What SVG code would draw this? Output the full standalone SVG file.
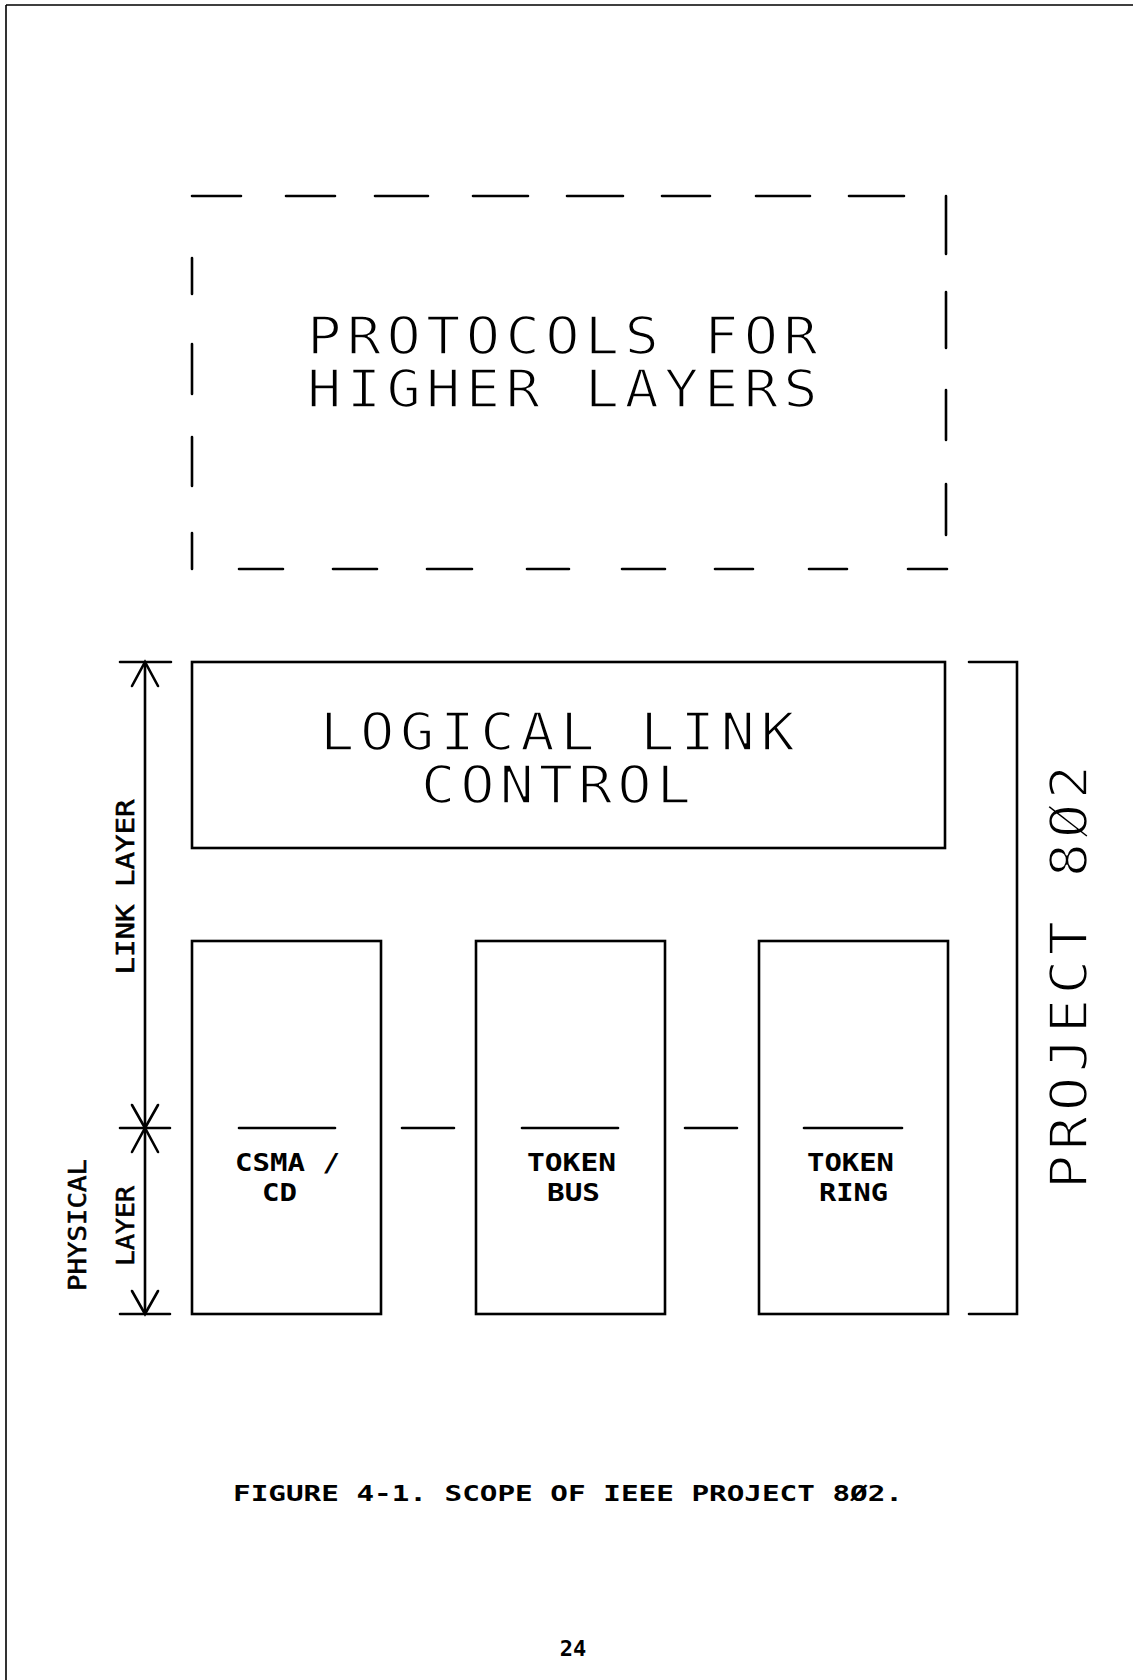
<svg xmlns="http://www.w3.org/2000/svg" width="1133" height="1680" viewBox="0 0 1133 1680">
<style>
.ln{stroke:#000;stroke-width:2.6;fill:none;stroke-linecap:round}
.box{stroke:#000;stroke-width:2.6;fill:none}
.big{font-family:"DejaVu Sans Mono","Liberation Mono",monospace;font-size:51px;fill:#000;stroke:#fff;stroke-width:1.7px}
.sm{font-family:"DejaVu Sans Mono","Liberation Mono",monospace;font-size:25px;fill:#000;stroke:#000;stroke-width:0.6px}
.lbl{font-family:"DejaVu Sans Mono","Liberation Mono",monospace;font-size:24.5px;font-weight:bold;fill:#000}
.cap{font-family:"DejaVu Sans Mono","Liberation Mono",monospace;font-size:22px;font-weight:bold;fill:#000}
</style>
<rect x="0" y="0" width="1133" height="1680" fill="#fff"/>
<g id="page-border">
<path d="M6 5 L1133 5 M6 5 L6 1680" stroke="#000" stroke-width="1.6" fill="none"/>
</g>
<g id="higher-layers">
<path class="ln" d="M192 196H241M286 196H335M375 196H428M473 196H528M567 196H623M662 196H710M756 196H810M849 196H904
M946 196V254M946 292V348M946 390V440M946 484V535
M239 569H283M333 569H377M427 569H472M527 569H569M622 569H665M715 569H753M809 569H847M908 569H947
M192 258V294M192 344V394M192 437V486M192 533V569"/>
<text class="big" transform="translate(307,354) scale(1.12,1)" x="0" y="0" textLength="456" lengthAdjust="spacing">PROTOCOLS FOR</text>
<text class="big" transform="translate(307,407) scale(1.12,1)" x="0" y="0" textLength="456" lengthAdjust="spacing">HIGHER LAYERS</text>
</g>
<g id="llc">
<rect class="box" x="192" y="662" width="753" height="186"/>
<text class="big" transform="translate(320,750) scale(1.12,1)" x="0" y="0" textLength="424" lengthAdjust="spacing">LOGICAL LINK</text>
<text class="big" transform="translate(421,803) scale(1.12,1)" x="0" y="0" textLength="241" lengthAdjust="spacing">CONTROL</text>
</g>
<g id="csma-cd">
<rect class="box" x="192" y="941" width="189" height="373"/>
<path class="ln" d="M239 1128H335"/>
<text class="lbl" x="235" y="1171" textLength="105" lengthAdjust="spacingAndGlyphs">CSMA /</text>
<text class="lbl" x="262" y="1201" textLength="35" lengthAdjust="spacingAndGlyphs">CD</text>
</g>
<g id="token-bus">
<rect class="box" x="476" y="941" width="189" height="373"/>
<path class="ln" d="M522 1128H618"/>
<text class="lbl" x="527" y="1171" textLength="89" lengthAdjust="spacingAndGlyphs">TOKEN</text>
<text class="lbl" x="547" y="1201" textLength="53" lengthAdjust="spacingAndGlyphs">BUS</text>
</g>
<g id="token-ring">
<rect class="box" x="759" y="941" width="189" height="373"/>
<path class="ln" d="M804 1128H902"/>
<text class="lbl" x="807" y="1171" textLength="87" lengthAdjust="spacingAndGlyphs">TOKEN</text>
<text class="lbl" x="819" y="1201" textLength="69" lengthAdjust="spacingAndGlyphs">RING</text>
</g>
<g id="project-802">
<path class="ln" d="M969 662H1017V1314H969"/>
<text class="big" transform="translate(1087,977) rotate(-90) scale(1.12,1)" text-anchor="middle" textLength="379" lengthAdjust="spacing">PROJECT 8Ø2</text>
</g>
<g id="layer-labels">
<text class="sm" transform="translate(134,887) rotate(-90)" text-anchor="middle" textLength="175" lengthAdjust="spacingAndGlyphs">LINK LAYER</text>
<text class="sm" transform="translate(86,1225) rotate(-90)" text-anchor="middle" textLength="132" lengthAdjust="spacingAndGlyphs">PHYSICAL</text>
<text class="sm" transform="translate(134,1226) rotate(-90)" text-anchor="middle" textLength="80" lengthAdjust="spacingAndGlyphs">LAYER</text>
</g>
<g id="connectors">
<path class="ln" d="M145 662V1314"/>
<path class="ln" d="M120 662H171M120 1128H170M120 1314H170"/>
<path class="ln" d="M132 686L145 662L158 686"/>
<path class="ln" d="M132 1105L145 1128L158 1105"/>
<path class="ln" d="M132 1152L145 1128L158 1152"/>
<path class="ln" d="M132 1291L145 1314L158 1291"/>
<path class="ln" d="M402 1128H454M685 1128H737"/>
</g>
<g id="caption">
<text class="cap" x="233" y="1501" textLength="670" lengthAdjust="spacingAndGlyphs">FIGURE 4-1. SCOPE OF IEEE PROJECT 8Ø2.</text>
<text class="cap" x="573" y="1656" text-anchor="middle" font-size="25">24</text>
</g>
</svg>
